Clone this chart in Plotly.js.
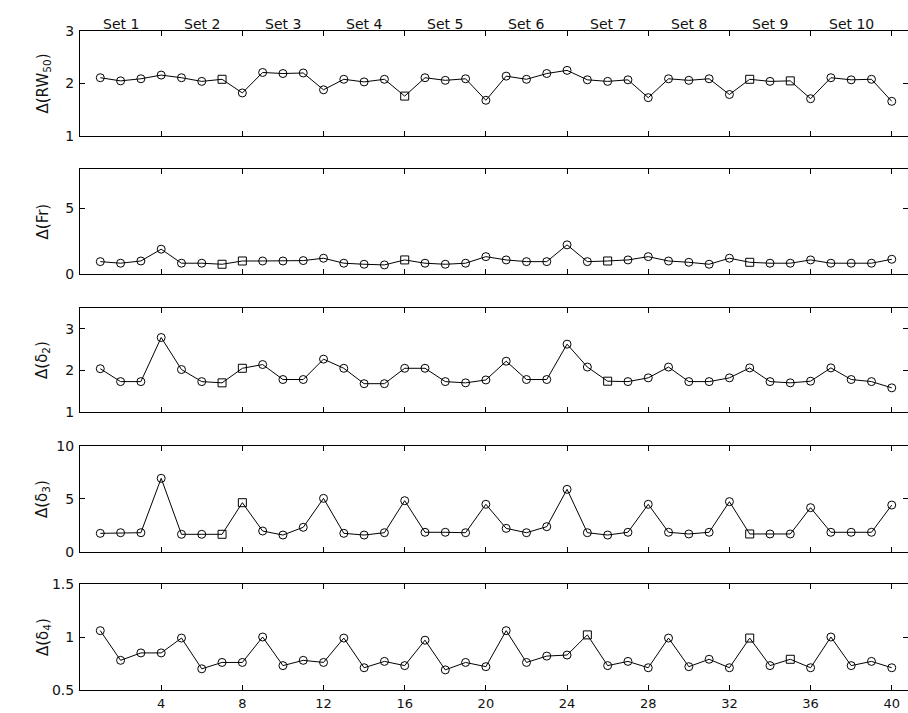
<!DOCTYPE html>
<html>
<head>
<meta charset="utf-8">
<script src="https://cdn.plot.ly/plotly-3.0.1.min.js"></script>
<style>
html,body{margin:0;padding:0;background:#fff;}
#chart{width:908px;height:713px;}
</style>
</head>
<body>
<div id="chart"></div>
<script>
// ---- data ----
const obs = [1,2,3,4,5,6,7,8,9,10,11,12,13,14,15,16,17,18,19,20,21,22,23,24,25,26,27,28,29,30,31,32,33,34,35,36,37,38,39,40];
const setLabels = ["Set 1","Set 2","Set 3","Set 4","Set 5","Set 6","Set 7","Set 8","Set 9","Set 10"];
const setCenters = [2,6,10,14,18,22,26,30,34,38];
const xTicks = [4,8,12,16,20,24,28,32,36,40];

const rw50 = [2.11,2.05,2.09,2.16,2.11,2.04,2.08,1.82,2.21,2.19,2.20,1.88,2.08,2.03,2.08,1.76,2.11,2.06,2.09,1.68,
              2.14,2.08,2.19,2.25,2.07,2.04,2.07,1.73,2.09,2.06,2.09,1.79,2.08,2.04,2.05,1.71,2.11,2.07,2.08,1.66];
const fr   = [0.94,0.82,0.99,1.89,0.82,0.82,0.74,0.99,0.99,0.99,1.02,1.20,0.82,0.74,0.69,1.07,0.82,0.74,0.82,1.32,
              1.07,0.94,0.94,2.22,0.94,0.99,1.07,1.32,0.99,0.89,0.74,1.20,0.89,0.82,0.82,1.07,0.82,0.82,0.82,1.12];
const d2   = [2.04,1.73,1.73,2.79,2.02,1.73,1.70,2.05,2.14,1.78,1.78,2.27,2.05,1.68,1.68,2.05,2.05,1.73,1.70,1.77,
              2.22,1.78,1.78,2.63,2.08,1.74,1.73,1.82,2.08,1.73,1.73,1.82,2.06,1.73,1.70,1.74,2.06,1.78,1.73,1.58];
const d3   = [1.76,1.82,1.82,6.95,1.67,1.67,1.67,4.65,1.98,1.60,2.33,5.06,1.76,1.60,1.82,4.84,1.86,1.86,1.82,4.50,
              2.23,1.82,2.39,5.91,1.82,1.60,1.86,4.50,1.86,1.70,1.86,4.75,1.70,1.70,1.70,4.18,1.86,1.86,1.86,4.43];
const d4   = [1.06,0.78,0.85,0.85,0.99,0.70,0.76,0.76,1.00,0.73,0.78,0.76,0.99,0.71,0.77,0.73,0.97,0.69,0.76,0.72,
              1.06,0.76,0.82,0.83,1.02,0.73,0.77,0.71,0.99,0.72,0.79,0.71,0.99,0.73,0.79,0.71,1.00,0.73,0.77,0.71];

// observations drawn with square markers in each panel
const sqRW = [7,16,33,35];
const sqFr = [7,8,16,26,33];
const sqD2 = [7,8,26];
const sqD3 = [7,8,33];
const sqD4 = [25,33,35];

const titles = ["Δ(RW<sub>50</sub>)","Δ(Fr)","Δ(δ<sub>2</sub>)","Δ(δ<sub>3</sub>)","Δ(δ<sub>4</sub>)"];
const yRanges = [[1,3],[0,8],[1,3.5],[0,10],[0.5,1.5]];
const yTickVals = [[1,2,3],[0,5],[1,2,3],[0,5,10],[0.5,1,1.5]];
const yTickText = [["1","2","3"],["0","5"],["1","2","3"],["0","5","10"],["0.5","1","1.5"]];

// ---- build ----
const series = [rw50, fr, d2, d3, d4];
const squares = [sqRW, sqFr, sqD2, sqD3, sqD4];
const domains = [[0.8407,1],[0.6313,0.7906],[0.4219,0.5797],[0.2094,0.3703],[0,0.1608]];
const fam = "DejaVu Sans, Liberation Sans, Arial, sans-serif";
const font = {family:fam, size:14, color:"#111"};
const xfont = {family:fam, size:13, color:"#111"};

const traces = [];
const layout = {
  width:908, height:713,
  margin:{l:80, r:0, t:31, b:23},
  paper_bgcolor:"#fff", plot_bgcolor:"#fff",
  showlegend:false,
  font:font,
  annotations:[]
};

series.forEach((vals,i)=>{
  const n = i+1;
  const xa = n===1 ? "x" : "x"+n;
  const ya = n===1 ? "y" : "y"+n;
  traces.push({
    type:"scatter", mode:"lines+markers",
    x:obs, y:vals, xaxis:xa, yaxis:ya,
    line:{color:"#000", width:1},
    marker:{
      symbol: obs.map(o => squares[i].includes(o) ? "square-open" : "circle-open"),
      size:8, color:"#000", line:{width:1, color:"#000"}
    },
    cliponaxis:false,
    hoverinfo:"x+y"
  });
  const xKey = n===1 ? "xaxis" : "xaxis"+n;
  const yKey = n===1 ? "yaxis" : "yaxis"+n;
  layout[xKey] = {
    domain:[0,1], anchor:ya, range:[0,40.8],
    tickmode:"array", tickvals:xTicks, ticktext:xTicks.map(String),
    showticklabels: n===5,
    ticks:"inside", ticklen:5, tickcolor:"#000", tickwidth:1,
    showline:true, linecolor:"#000", linewidth:1, mirror:"ticks",
    showgrid:false, zeroline:false,
    tickfont:xfont, ticklabelstandoff:1
  };
  layout[yKey] = {
    domain:domains[i], anchor:xa, range:yRanges[i],
    tickmode:"array", tickvals:yTickVals[i], ticktext:yTickText[i],
    ticks:"inside", ticklen:5, tickcolor:"#000", tickwidth:1,
    showline:true, linecolor:"#000", linewidth:1, mirror:"ticks",
    showgrid:false, zeroline:false,
    tickfont:font, ticklabelstandoff:2
  };
  layout.annotations.push({
    xref:"paper", yref: ya+" domain", x:0, y:0.5,
    xanchor:"center", yanchor:"middle", xshift:-37,
    textangle:-90, showarrow:false,
    text:titles[i], font:{family:fam, size:15, color:"#111"}
  });
});

setLabels.forEach((lab,k)=>{
  layout.annotations.push({
    xref:"x", yref:"y domain", x:setCenters[k], y:1,
    xanchor:"center", yanchor:"middle", yshift:7,
    showarrow:false, text:lab,
    font:{family:fam, size:14, color:"#111"}
  });
});

Plotly.newPlot("chart", traces, layout, {staticPlot:true});
</script>
</body>
</html>
